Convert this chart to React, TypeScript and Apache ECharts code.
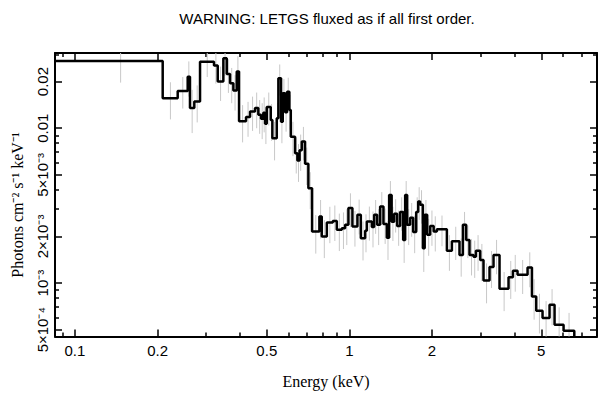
import React, { useEffect, useRef } from 'react';
import * as echarts from 'echarts';

// Bin edges (keV) of the binned spectrum
const binEdges = [
  0.0846, 0.2088, 0.2368, 0.2575, 0.2625, 0.2722, 0.2856, 0.3211, 0.3313, 0.3473,
  0.3573, 0.3674, 0.3777, 0.3886, 0.3962, 0.4201, 0.4345, 0.453, 0.4657, 0.4764,
  0.4857, 0.4927, 0.4998, 0.5169, 0.5239, 0.5436, 0.551, 0.5636, 0.5717, 0.5829,
  0.5928, 0.6043, 0.6115, 0.6339, 0.6463, 0.6583, 0.6706, 0.6893, 0.7087, 0.7311,
  0.7773, 0.793, 0.8273, 0.87, 0.8997, 0.9381, 0.9645, 0.9917, 1.0255, 1.0694,
  1.1004, 1.141, 1.1574, 1.207, 1.2303, 1.2618, 1.294, 1.3305, 1.3688, 1.3955,
  1.4251, 1.4555, 1.4925, 1.5305, 1.5697, 1.5963, 1.6233, 1.6647, 1.7071, 1.7507,
  1.7804, 1.8102, 1.8519, 1.8802, 1.92, 1.9689, 2.0277, 2.0827, 2.2652, 2.3623,
  2.5177, 2.5907, 2.6634, 2.7384, 2.832, 2.8894, 2.9957, 3.0798, 3.2392, 3.3497,
  3.5229, 3.7991, 3.9415, 4.0973, 4.4567, 4.6238, 4.7931, 5.0535, 5.3592, 5.5897,
  6.0287, 6.596, 7.98,
];

// Flux per bin (photons cm^-2 s^-1 keV^-1)
const flux = [
  0.0272, 0.0156, 0.0174, 0.0215, 0.0135, 0.0149, 0.0269, 0.0254, 0.02, 0.0283,
  0.0224, 0.0195, 0.0175, 0.0232, 0.0111, 0.0118, 0.0128, 0.0135, 0.0122, 0.0115,
  0.0126, 0.0107, 0.0137, 0.0113, 0.0086, 0.0116, 0.021, 0.011, 0.0168, 0.0127,
  0.0172, 0.0131, 0.0088, 0.0069, 0.0062, 0.0072, 0.0082, 0.0059, 0.0041, 0.00215,
  0.00269, 0.002, 0.00246, 0.00252, 0.00221, 0.00226, 0.00238, 0.00305, 0.00232, 0.00276,
  0.00195, 0.00218, 0.0025, 0.0023, 0.00276, 0.00238, 0.00312, 0.00241, 0.00196, 0.00371,
  0.00249, 0.0028, 0.00234, 0.00288, 0.0019, 0.00371, 0.00238, 0.00264, 0.00214, 0.00288,
  0.00336, 0.0032, 0.00168, 0.00276, 0.00205, 0.00234, 0.00215, 0.00223, 0.00162, 0.00186,
  0.00152, 0.00238, 0.0019, 0.00152, 0.00148, 0.00162, 0.00141, 0.00104, 0.00127, 0.00152,
  0.000919, 0.00109, 0.0012, 0.00113, 0.00126, 0.00082, 0.000663, 0.000595, 0.000724, 0.000538,
  0.000492, 0.00032,
];

// 1-sigma flux errors per bin
const fluxErr = [
  0.0075, 0.0042, 0.004, 0.0055, 0.0042, 0.004, 0.0055, 0.006, 0.005, 0.0065,
  0.0055, 0.005, 0.0045, 0.006, 0.003, 0.003, 0.0032, 0.0035, 0.003, 0.003,
  0.0032, 0.0028, 0.0033, 0.003, 0.0024, 0.003, 0.0048, 0.003, 0.004, 0.0032,
  0.004, 0.0033, 0.0022, 0.0018, 0.0017, 0.0019, 0.002, 0.0016, 0.0011, 0.0006,
  0.00075, 0.00055, 0.00065, 0.00065, 0.0006, 0.0006, 0.00062, 0.00075, 0.0006, 0.0007,
  0.00055, 0.0006, 0.00062, 0.0006, 0.00068, 0.00062, 0.00075, 0.00062, 0.00055, 0.00085,
  0.00062, 0.00068, 0.0006, 0.0007, 0.00055, 0.00085, 0.00062, 0.00065, 0.00058, 0.0007,
  0.0008, 0.00078, 0.0005, 0.00068, 0.00055, 0.0006, 0.00055, 0.0005, 0.00042, 0.00045,
  0.00042, 0.0005, 0.00045, 0.0004, 0.0004, 0.00042, 0.00038, 0.0003, 0.00034, 0.00038,
  0.00026, 0.0003, 0.00032, 0.00028, 0.00032, 0.00024, 0.00019, 0.00017, 0.00019, 0.00016,
  0.00015, 0.0001,
];

const xRange = [0.0846, 7.98];
const yRange = [4.52e-4, 0.0306];

const xMajorTicks = [0.1, 0.2, 0.5, 1, 2, 5];
const xMajorLabels = ['0.1', '0.2', '0.5', '1', '2', '5'];
const xMinorTicks = [0.09, 0.3, 0.4, 0.6, 0.7, 0.8, 0.9, 3, 4, 6, 7];

const yMajorTicks = [5e-4, 1e-3, 2e-3, 5e-3, 0.01, 0.02];
const yMajorLabels = ['5×10⁻⁴', '10⁻³', '2×10⁻³', '5×10⁻³', '0.01', '0.02'];
const yMinorTicks = [6e-4, 7e-4, 8e-4, 9e-4, 3e-3, 4e-3, 6e-3, 7e-3, 8e-3, 9e-3, 0.03];

const titleText = 'WARNING: LETGS fluxed as if all first order.';
const xTitle = 'Energy (keV)';
const yTitle = 'Photons cm⁻² s⁻¹ keV⁻¹';

const lg = (v: number) => Math.log10(v);

function labelFor(ticks: number[], labels: string[]) {
  return (v: number) => {
    const i = ticks.findIndex((t) => Math.abs(lg(t) - v) < 1e-6);
    return i >= 0 ? labels[i] : '';
  };
}

function makeAxis(
  dim: 'x' | 'y',
  position: string,
  ticks: number[],
  len: number,
  showLine: boolean,
  labels?: string[]
): any {
  const range = dim === 'x' ? xRange : yRange;
  return {
    type: 'value',
    position,
    min: lg(range[0]),
    max: lg(range[1]),
    splitLine: { show: false },
    axisLine: { show: showLine, onZero: false, lineStyle: { color: '#000', width: 2 } },
    axisTick: {
      show: true,
      inside: true,
      length: len,
      customValues: ticks.map(lg),
      lineStyle: { color: '#000', width: 1.5 },
    },
    axisLabel: labels
      ? {
          show: true,
          customValues: ticks.map(lg),
          formatter: labelFor(ticks, labels),
          fontFamily: 'Liberation Sans, Arial, sans-serif',
          fontSize: 15,
          color: '#000',
          margin: dim === 'x' ? 6 : 5,
          rotate: dim === 'y' ? 90 : 0,
          hideOverlap: false,
        }
      : { show: false },
  };
}

export default function App() {
  const ref = useRef<HTMLDivElement>(null);
  useEffect(() => {
    document.body.style.margin = '0';
    const chart = echarts.init(ref.current!, null, { renderer: 'svg' });

    const stepData = binEdges.map((e, i) => [lg(e), lg(flux[Math.min(i, flux.length - 1)])]);
    const errData = flux.map((f, i) => {
      const mid = (binEdges[i] + binEdges[i + 1]) / 2;
      return [lg(mid), lg(Math.max(f - fluxErr[i], 1e-9)), lg(f + fluxErr[i])];
    });

    chart.setOption({
      animation: false,
      grid: { left: 55, right: 11, top: 53, bottom: 62.5 },
      xAxis: [
        makeAxis('x', 'bottom', xMajorTicks, 7, true, xMajorLabels),
        makeAxis('x', 'bottom', xMinorTicks, 4, false),
        makeAxis('x', 'top', xMajorTicks, 7, true),
        makeAxis('x', 'top', xMinorTicks, 4, false),
      ],
      yAxis: [
        makeAxis('y', 'left', yMajorTicks, 7, true, yMajorLabels),
        makeAxis('y', 'left', yMinorTicks, 4, false),
        makeAxis('y', 'right', yMajorTicks, 7, true),
        makeAxis('y', 'right', yMinorTicks, 4, false),
      ],
      graphic: [
        {
          type: 'text',
          x: 327,
          y: 18,
          style: {
            text: titleText,
            fontFamily: 'Liberation Sans, Arial, sans-serif',
            fontSize: 15,
            fill: '#000',
            align: 'center',
            verticalAlign: 'middle',
          },
        },
        {
          type: 'text',
          x: 326,
          y: 381,
          style: {
            text: xTitle,
            fontFamily: 'Liberation Serif, Times New Roman, serif',
            fontSize: 16,
            fill: '#000',
            align: 'center',
            verticalAlign: 'middle',
          },
        },
        {
          type: 'text',
          x: 17,
          y: 205,
          rotation: Math.PI / 2,
          style: {
            text: yTitle,
            fontFamily: 'Liberation Serif, Times New Roman, serif',
            fontSize: 16,
            fill: '#000',
            align: 'center',
            verticalAlign: 'middle',
          },
        },
      ],
      series: [
        {
          type: 'custom',
          xAxisIndex: 0,
          yAxisIndex: 0,
          clip: true,
          z: 1,
          data: errData,
          renderItem: (params: any, api: any) => {
            const p1 = api.coord([api.value(0), api.value(1)]);
            const p2 = api.coord([api.value(0), api.value(2)]);
            return {
              type: 'line',
              shape: { x1: p1[0], y1: p1[1], x2: p2[0], y2: p2[1] },
              style: { stroke: '#c8c8c8', lineWidth: 1 },
            };
          },
        },
        {
          type: 'line',
          xAxisIndex: 0,
          yAxisIndex: 0,
          step: 'end',
          data: stepData,
          showSymbol: false,
          clip: true,
          z: 3,
          lineStyle: { color: '#000', width: 2.5 },
        },
      ],
    });
    return () => chart.dispose();
  }, []);
  return (
    <div
      ref={ref}
      style={{ position: 'absolute', left: 0, top: 0, width: 608, height: 399 }}
    />
  );
}
